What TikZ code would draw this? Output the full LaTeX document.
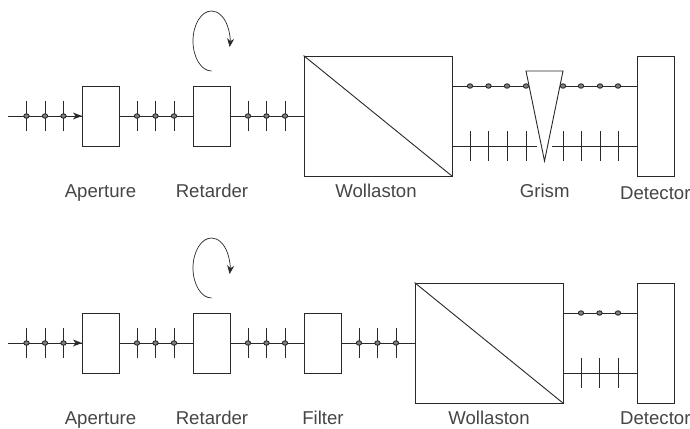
\documentclass[tikz,border=0pt]{standalone}
\usepackage{fontspec}
\setmainfont{Liberation Sans}
\usetikzlibrary{arrows.meta}
\definecolor{ink}{gray}{0.16}
\definecolor{inktext}{gray}{0.27}
\tikzset{
  optic/.style={draw=ink,line width=0.9pt,fill=white,inner sep=0pt,minimum width=37pt,minimum height=60pt},
  bigoptic/.style={optic,minimum width=148pt,minimum height=120pt},
  tallbox/.style={optic,minimum height=120pt},
  beam/.style={draw=ink,line width=0.9pt},
  tick/.style={draw=ink,line width=0.9pt},
  dot/.style={draw=ink,line width=0.9pt,fill=black!50},
  turn/.style={draw=ink,line width=0.7pt,-{Stealth[length=8.5pt,width=7pt]}},
  label/.style={text=inktext,font=\fontsize{18.6}{21}\selectfont,inner sep=0pt,anchor=base},
}
\newcommand{\polt}[2]{\draw[tick] (#1,#2-15) -- (#1,#2+15);}
\newcommand{\pold}[2]{\path[dot] (#1,#2) ellipse (2.7pt and 2.2pt);}
\newcommand{\polb}[2]{\polt{#1}{#2}\pold{#1}{#2}}
\begin{document}
\begin{tikzpicture}[x=1pt,y=-1pt]
\useasboundingbox (0,0) rectangle (690,428);
% ---- top row
\coordinate (s1) at (8,116);
\node[optic] (a1) at (100.5,116) {};
\node[optic] (r1) at (211.5,116) {};
\node[bigoptic] (w1) at (378,116) {};
\node[tallbox] (d1) at (655.5,116) {};
\coordinate (wu1) at (452,86);
\coordinate (wl1) at (452,146);
\coordinate (du1) at (637,86);
\coordinate (dl1) at (637,146);
\coordinate (gl) at (537,146);
\coordinate (gr) at (552,146);
\draw[beam] (s1) -- (a1.west);
\draw[beam] (a1.east) -- (r1.west);
\draw[beam] (r1.east) -- (w1.west);
\draw[beam] (w1.north west) -- (w1.south east);
\draw[beam] (wu1) -- (du1);
\draw[beam] (wl1) -- (gl);
\draw[beam] (gr) -- (dl1);
\foreach \x in {26.5,45,63.5,137,155.5,174,248,266.5,285} {\polb{\x}{116}}
\polt{230}{116}
\fill[ink] (82,116) -- (73,112.5) -- (75.5,116) -- (73,119.5) -- cycle;
\foreach \x in {470,488.5,507,526,563,581,600,618} {\pold{\x}{86}\polt{\x}{146}}
\draw[draw=ink,line width=0.9pt,fill=white] (526,71) -- (563,71) -- (544.5,161) -- cycle;
\draw[turn] (211.5,71) arc[start angle=270,end angle=-11.5,x radius=18.5pt,y radius=30pt];
\node[label] (t1) at (100.5,197.5) {Aperture};
\node[label] (t2) at (212,197.5) {Retarder};
\node[label] (t3) at (376,197.5) {Wollaston};
\node[label] (t4) at (544.7,197.5) {Grism};
\node[label,anchor=base west] (t5) at (620,199) {Detector};
% ---- bottom row
\coordinate (s2) at (8,343);
\node[optic] (a2) at (100.5,343) {};
\node[optic] (r2) at (211.5,343) {};
\node[optic] (f2) at (322.5,343) {};
\node[bigoptic] (w2) at (489,343) {};
\node[tallbox] (d2) at (655.5,343) {};
\coordinate (wu2) at (563,313);
\coordinate (wl2) at (563,373);
\coordinate (du2) at (637,313);
\coordinate (dl2) at (637,373);
\draw[beam] (s2) -- (a2.west);
\draw[beam] (a2.east) -- (r2.west);
\draw[beam] (r2.east) -- (f2.west);
\draw[beam] (f2.east) -- (w2.west);
\draw[beam] (w2.north west) -- (w2.south east);
\draw[beam] (wu2) -- (du2);
\draw[beam] (wl2) -- (dl2);
\foreach \x in {26.5,45,63.5,137,155.5,174,248,266.5,285,359,377.5,396} {\polb{\x}{343}}
\polt{230}{343}
\fill[ink] (82,343) -- (73,339.5) -- (75.5,343) -- (73,346.5) -- cycle;
\foreach \x in {581,599.5,618} {\pold{\x}{313}\polt{\x}{373}}
\draw[turn] (211.5,298) arc[start angle=270,end angle=-11.5,x radius=18.5pt,y radius=30pt];
\node[label] (b1) at (100.5,424.5) {Aperture};
\node[label] (b2) at (212,424.5) {Retarder};
\node[label] (b3) at (323,424.5) {Filter};
\node[label] (b4) at (489,424.5) {Wollaston};
\node[label,anchor=base west] (b5) at (620,424.5) {Detector};
\end{tikzpicture}
\end{document}
